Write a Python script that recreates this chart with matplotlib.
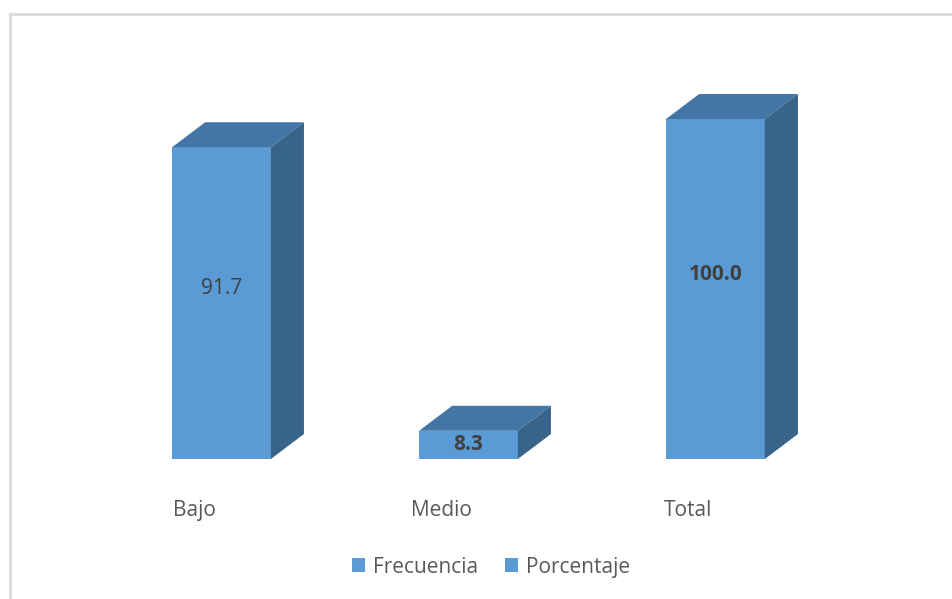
import matplotlib
matplotlib.use('Agg')
import matplotlib.pyplot as plt
from matplotlib.patches import Polygon, Patch
from matplotlib.lines import Line2D

# Data
categorias = ['Bajo', 'Medio', 'Total']
porcentaje = [91.7, 8.3, 100.0]
etiquetas = ['91.7', '8.3', '100.0']
negrita = [False, True, True]
series = ['Frecuencia', 'Porcentaje']

plt.rcParams['font.family'] = ['Open Sans', 'DejaVu Sans']

front = '#5B9BD5'
top = '#4476A5'
side = '#396489'
txt = '#404040'
gris = '#595959'

fig = plt.figure(figsize=(9.53, 5.99), dpi=100)
ax = fig.add_axes([0.1028, 0.2337, 0.7775, 0.5676])
ax.set_xlim(-0.5, 2.5)
ax.set_ylim(0, 100)
ax.axis('off')

w = 0.4      # bar width
dx = 0.134   # depth offset x
dy = 7.35    # depth offset y

for i, v in enumerate(porcentaje):
    x0, x1 = i - w / 2, i + w / 2
    ax.add_patch(Polygon([(x0, 0), (x1, 0), (x1, v), (x0, v)], closed=True,
                         facecolor=front, edgecolor='none', clip_on=False))
    ax.add_patch(Polygon([(x0, v), (x1, v), (x1 + dx, v + dy), (x0 + dx, v + dy)],
                         closed=True, facecolor=top, edgecolor='none', clip_on=False))
    ax.add_patch(Polygon([(x1, 0), (x1 + dx, dy), (x1 + dx, v + dy), (x1, v)],
                         closed=True, facecolor=side, edgecolor='none', clip_on=False))
    ly = v / 2 + (0.6 * dy if v > 20 else 0)
    ax.text(i, ly, etiquetas[i], ha='center', va='center', fontsize=15,
            color=txt, fontweight='bold' if negrita[i] else 'normal')
    ax.text(i - 0.11, -15, categorias[i], ha='center', va='center',
            fontsize=15, color=gris, clip_on=False)

handles = [Patch(facecolor=front, edgecolor='none', label=series[0]),
           Patch(facecolor='#5B9BD5', edgecolor='none', label=series[1])]
leg = fig.legend(handles=handles, loc='center', bbox_to_anchor=(0.515, 0.053),
                 ncol=2, frameon=False, fontsize=15, handlelength=0.65,
                 handleheight=0.65, handletextpad=0.35, columnspacing=1.3)
for t in leg.get_texts():
    t.set_color(gris)

# chart border (top and left visible)
fig.add_artist(Line2D([0.0105, 1.0], [0.9766, 0.9766], color='#D9D9D9', lw=2))
fig.add_artist(Line2D([0.0105, 0.0105], [0.0, 0.9766], color='#D9D9D9', lw=2))

fig.savefig('out.png', dpi=100)
